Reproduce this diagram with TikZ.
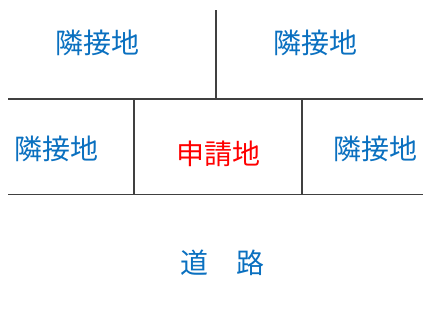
\documentclass[tikz,border=0pt]{standalone}
\usepackage{fontspec}
\newfontfamily\cjk{Noto Sans CJK JP}
\definecolor{landblue}{HTML}{0A70C0}
\definecolor{landred}{HTML}{FF0000}
\definecolor{linegray}{HTML}{404040}
\tikzset{
  lbl/.style={font=\cjk\fontsize{28}{32}\selectfont, inner sep=0pt, anchor=center},
  nbr/.style={lbl, text=landblue},
  own/.style={lbl, text=landred},
  bound/.style={draw=linegray, line width=1.2pt}
}
\begin{document}
\begin{tikzpicture}[x=1pt,y=-1pt]
\useasboundingbox[fill=white] (0,0) rectangle (423,327);
% boundaries
\coordinate (t1) at (216,10);
\coordinate (t2) at (216,99);
\coordinate (h1a) at (8,99);
\coordinate (h1b) at (423,99);
\coordinate (h2a) at (8,194.5);
\coordinate (h2b) at (423,194.5);
\coordinate (v1a) at (134,99);
\coordinate (v1b) at (134,194.5);
\coordinate (v2a) at (302,99);
\coordinate (v2b) at (302,194.5);
\draw[bound] (t1) -- (t2);
\draw[bound] (h1a) -- (h1b);
\draw[bound] (h2a) -- (h2b);
\draw[bound] (v1a) -- (v1b);
\draw[bound] (v2a) -- (v2b);
% labels
\node[nbr] (n1) at (97.5,42.5) {隣接地};
\node[nbr] (n2) at (315.5,42.5) {隣接地};
\node[nbr] (n3) at (56,149) {隣接地};
\node[own] (s) at (218,154) {申請地};
\node[nbr] (n4) at (375,149) {隣接地};
\node[nbr] (road) at (222,262.5) {道　路};
\end{tikzpicture}
\end{document}
